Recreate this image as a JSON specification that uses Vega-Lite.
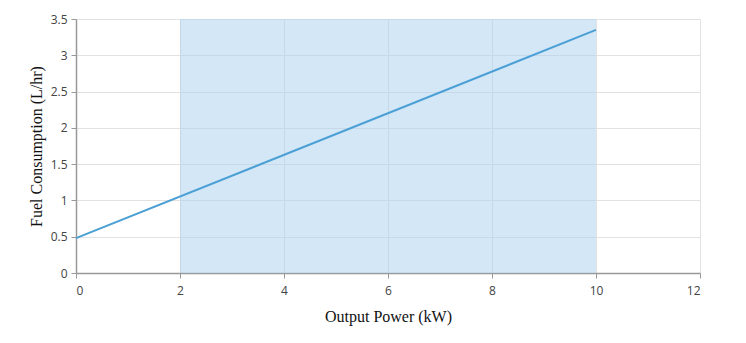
{
  "$schema": "https://vega.github.io/schema/vega-lite/v6.json",
  "width": 624,
  "height": 254,
  "autosize": {"type": "none"},
  "padding": {"left": 76, "top": 19, "right": 46, "bottom": 70},
  "background": "white",
  "config": {
    "view": {"stroke": null},
    "axis": {
      "labelFont": "Open Sans",
      "labelFontSize": 12,
      "labelColor": "#444444",
      "titleFont": "Liberation Serif",
      "titleFontSize": 16,
      "titleFontWeight": "normal",
      "titleColor": "#111111",
      "domainColor": "#999999",
      "domainWidth": 1.5,
      "tickColor": "#999999",
      "tickSize": 5,
      "gridColor": "#e2e2e2",
      "gridWidth": 1
    }
  },
  "datasets": {
    "band": [{"x0": 2, "x1": 10}],
    "line": [{"power": 0, "fuel": 0.48}, {"power": 10, "fuel": 3.35}]
  },
  "layer": [
    {
      "data": {"name": "band"},
      "mark": {"type": "rect", "color": "#a8d0f0", "opacity": 0.5},
      "encoding": {
        "x": {"field": "x0", "type": "quantitative", "scale": {"domain": [0, 12]},
          "axis": {"title": "Output Power (kW)", "values": [0, 2, 4, 6, 8, 10, 12], "labelPadding": 7, "titlePadding": 12}},
        "x2": {"field": "x1"}
      }
    },
    {
      "data": {"name": "line"},
      "mark": {"type": "line", "color": "#4a9fd4", "strokeWidth": 2},
      "encoding": {
        "x": {"field": "power", "type": "quantitative", "scale": {"domain": [0, 12]}},
        "y": {"field": "fuel", "type": "quantitative", "scale": {"domain": [0, 3.5]},
          "axis": {"title": "Fuel Consumption (L/hr)", "format": "~g", "values": [0, 0.5, 1, 1.5, 2, 2.5, 3, 3.5], "labelPadding": 4, "titlePadding": 6}}
      }
    }
  ]
}
